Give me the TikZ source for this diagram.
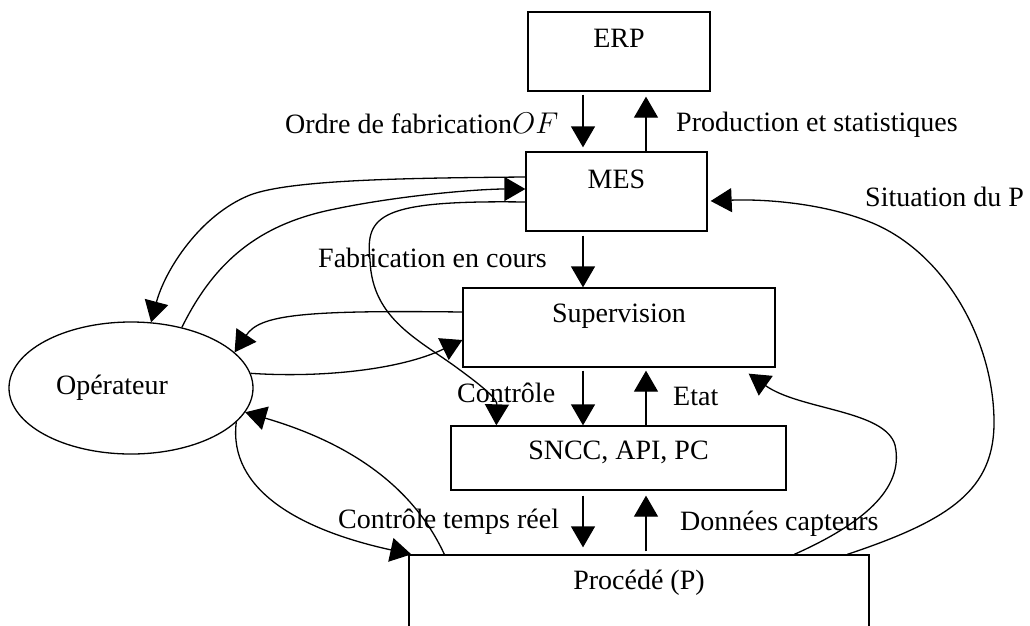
\RequirePackage{fix-cm}
\documentclass[tikz,border=0pt]{standalone}
\usepackage{fontspec}
\setmainfont{Liberation Serif}
\usetikzlibrary{arrows.meta,calc,shapes.geometric}
\begin{document}
\begin{tikzpicture}[x=1pt,y=-1pt,
  blk/.style={draw, line width=1.3pt, rectangle, inner sep=0pt, font=\fontsize{28}{30}\selectfont},
  lbl/.style={anchor=base west, inner sep=0pt, font=\fontsize{28}{30}\selectfont},
  con/.style={line width=1.3pt, -{Triangle[width=24pt,length=21pt]}},
]
\clip (0,0) rectangle (1030,625);
\fill[white] (0,0) rectangle (1030,625);
% boxes
\node[blk, minimum width=182pt, minimum height=79pt, text height=35pt, text depth=44pt] (erp) at (619,51.5) {ERP};
\node[blk, minimum width=181pt, minimum height=79pt, text height=36pt, text depth=43pt] (mes) at (616.5,191.5) {MES};
\node[blk, minimum width=312pt, minimum height=79pt, text height=34pt, text depth=45pt] (sup) at (619,327.5) {Supervision};
\node[blk, minimum width=335pt, minimum height=64pt, text height=33pt, text depth=31pt] (sncc) at (618.5,458) {SNCC, API, PC};
\node[blk, minimum width=460pt, minimum height=90pt, text height=34pt, text depth=56pt] (proc) at (639,600) {Procédé (P)};
\node[draw, ellipse, line width=1.3pt, minimum width=244pt, minimum height=132pt, inner sep=0pt, font=\fontsize{28}{30}\selectfont] (op) at (131,388) {Opérateur\hspace*{38pt}};
% straight arrows
\draw[con, shorten <=3pt, shorten >=4pt] ([xshift=-36pt]erp.south) -- ([xshift=-36pt]erp.south |- mes.north);
\draw[con, shorten >=5pt] ([xshift=29.5pt]mes.north) -- ([xshift=29.5pt]mes.north |- erp.south);
\draw[con, shorten <=4pt] ([xshift=-33.5pt]mes.south) -- ([xshift=-33.5pt]mes.south |- sup.north);
\draw[con, shorten <=3pt] ([xshift=-36pt]sup.south) -- ([xshift=-36pt]sup.south |- sncc.north);
\draw[con, shorten >=3pt] ([xshift=27.5pt]sncc.north) -- ([xshift=27.5pt]sncc.north |- sup.south);
\draw[con, shorten <=5pt, shorten >=7pt] ([xshift=-35.5pt]sncc.south) -- ([xshift=-35.5pt]sncc.south |- proc.north);
\draw[con, shorten <=3pt, shorten >=5pt] ([xshift=7pt]proc.north) -- ([xshift=7pt]proc.north |- sncc.south);
% curved arrows
\draw[con] ([yshift=14.5pt]mes.west) .. controls (400,178) and (290,180) .. (250,195) .. controls (200,215) and (165,270) .. (op.73);
\draw[con] (op.50) .. controls (215,260) and (260,225) .. (330,210) .. controls (400,195) and (480,189) .. ([yshift=2.5pt]mes.west);
\draw[con] ([yshift=-10.5pt]mes.west) .. controls (380,200) and (365,215) .. (370,260) .. controls (372,320) and (420,340) .. (460,370) .. controls (490,392) and (497,400) .. ($(sncc.north west)+(46,0)$);
\draw[con] ([yshift=15.5pt]sup.west) .. controls (300,310) and (260,315) .. (op.19);
\draw[con] (op.7) .. controls (320,378) and (400,370) .. ([yshift=-12.5pt]sup.west);
\draw[con] ($(proc.north west)+(36,0)$) .. controls (410,480) and (340,440) .. (op.-12);
\draw[con] (op.-18) .. controls (228,490) and (300,530) .. ($(proc.north west)+(3,0)$);
\draw[con] ($(proc.north west)+(386,0)$) .. controls (860,525) and (905,490) .. (895,445) .. controls (885,410) and (800,410) .. ($(sup.south east)+(-27,6)$);
\draw[con] ($(proc.north west)+(439,0)$) .. controls (950,520) and (995,490) .. (994,420) .. controls (993,340) and (945,252) .. (870,222) .. controls (820,202) and (760,199) .. ([xshift=3pt,yshift=-9.5pt]mes.east);
% labels
\node[lbl] (lof) at (285,133) {Ordre de fabrication{\fontsize{30}{32}\selectfont$OF$}};
\node[lbl] (lprod) at (676,131) {Production et statistiques};
\node[lbl] (lsit) at (865,206) {Situation du P};
\node[lbl] (lfab) at (318,267) {Fabrication en cours};
\node[lbl] (lctl) at (457,402) {Contrôle};
\node[lbl] (letat) at (673,405) {Etat};
\node[lbl] (lctr) at (338,528) {Contrôle temps réel};
\node[lbl] (ldon) at (680,530) {Données capteurs};
\end{tikzpicture}
\end{document}
